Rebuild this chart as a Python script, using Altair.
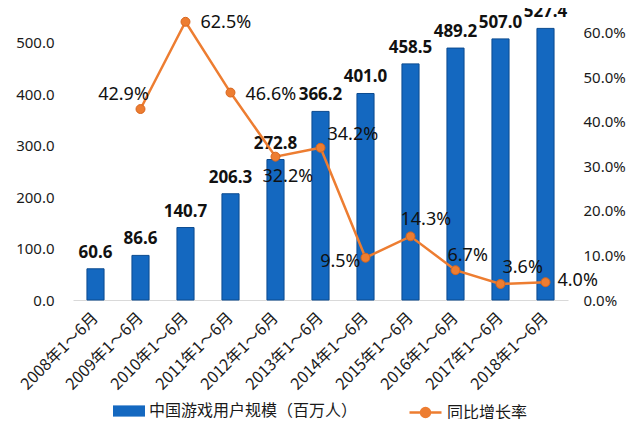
import altair as alt
import pandas as pd

# ---- data ----
periods = ["2008年1～6月", "2009年1～6月", "2010年1～6月", "2011年1～6月",
           "2012年1～6月", "2013年1～6月", "2014年1～6月", "2015年1～6月",
           "2016年1～6月", "2017年1～6月", "2018年1～6月"]
users = [60.6, 86.6, 140.7, 206.3, 272.8, 366.2, 401.0, 458.5, 489.2, 507.0, 527.4]
growth = [None, 42.9, 62.5, 46.6, 32.2, 34.2, 9.5, 14.3, 6.7, 3.6, 4.0]
bar_series = "中国游戏用户规模（百万人）"
line_series = "同比增长率"
left_ticks = [0, 100, 200, 300, 400, 500]
right_ticks = [0, 10, 20, 30, 40, 50, 60]

# ---- label placement style (align, dx, dy) for growth labels ----
pct_label_style = {
    1: ("center", -17, -14),
    2: ("left", 15, 1),
    3: ("left", 15, 2),
    4: ("left", -13, 20),
    5: ("left", 7, -13),
    6: ("right", -5, 4),
    7: ("left", -10, -16),
    8: ("left", -8, -14),
    9: ("left", 2, -16),
    10: ("left", 12, -1),
}

FONT = "Noto Sans"
CJK = "Noto Sans CJK SC"
BLUE = "#1468c0"
ORANGE = "#ED7D31"

df = pd.DataFrame({
    "period": periods,
    "users": users,
    "growth": growth,
    "bar_series": [bar_series] * len(periods),
    "line_series": [line_series] * len(periods),
})

x_enc = alt.X(
    "period:N", sort=periods, title=None,
    scale=alt.Scale(paddingInner=0.62, paddingOuter=0.31),
    axis=alt.Axis(labelAngle=-45, labelAlign="right", labelBaseline="middle",
                  labelPadding=15, labelFont=CJK, labelFontSize=16,
                  labelColor="#1a1a1a", ticks=False, domainColor="#d9d9d9",
                  domainWidth=1, grid=False),
)

y_left = alt.Y(
    "users:Q", title=None,
    scale=alt.Scale(domain=[0, 567], nice=False, zero=True),
    axis=alt.Axis(orient="left", values=left_ticks, format=".1f", grid=False,
                  ticks=False, domain=False, labelPadding=19, labelFont=FONT,
                  labelFontSize=15, labelColor="#1a1a1a"),
)
y_right = alt.Y(
    "growth:Q", title=None,
    scale=alt.Scale(domain=[0, 65.6], nice=False, zero=True),
    axis=alt.Axis(orient="right", values=right_ticks,
                  labelExpr="format(datum.value, '.1f') + '%'", grid=False,
                  ticks=False, domain=False, labelPadding=15, labelFont=FONT,
                  labelFontSize=15, labelColor="#1a1a1a"),
)

base = alt.Chart(df)

bars = base.mark_bar(stroke="#0b4a8f", strokeWidth=1).encode(
    x=x_enc,
    y=y_left,
    fill=alt.Fill("bar_series:N", title=None,
                  scale=alt.Scale(domain=[bar_series], range=[BLUE]),
                  legend=alt.Legend(orient="none", legendX=40, legendY=387,
                                    symbolType="M-1,-0.35H1V0.35H-1Z",
                                    symbolSize=1024, symbolStrokeWidth=0,
                                    labelFont=CJK, labelFontSize=16,
                                    labelLimit=0,
                                    labelColor="#1a1a1a", padding=0)),
)
bar_text = base.mark_text(dy=-16, fontSize=17, fontWeight="bold", font=FONT,
                          color="#111111").encode(
    x=x_enc, y=y_left, text=alt.Text("users:Q", format=".1f"))

valid = base.transform_filter("isValid(datum.growth)")
line = valid.mark_line(strokeWidth=2.5).encode(
    x=x_enc, y=y_right,
    color=alt.Color("line_series:N", title=None,
                    scale=alt.Scale(domain=[line_series], range=[ORANGE]),
                    legend=alt.Legend(orient="none", legendX=335, legendY=387,
                                      symbolType="M-1,0H1M-0.28,0A0.28,0.28,0,1,0,0.28,0A0.28,0.28,0,1,0,-0.28,0Z",
                                      symbolSize=1024, symbolStrokeWidth=2.5,
                                      symbolFillColor=ORANGE,
                                      symbolStrokeColor=ORANGE,
                                      labelFont=CJK, labelFontSize=16,
                                      labelLimit=0,
                                      labelColor="#1a1a1a", padding=0)),
)
pts = valid.mark_point(filled=True, size=80, color=ORANGE, stroke="#d8651c",
                       strokeWidth=1, opacity=1).encode(x=x_enc, y=y_right)

pct_layers = []
for i, (align, dx, dy) in pct_label_style.items():
    pct_layers.append(
        base.transform_filter(alt.datum.period == periods[i])
        .transform_calculate(label="format(datum.growth, '.1f') + '%'")
        .mark_text(align=align, baseline="middle", dx=dx, dy=dy, fontSize=18,
                   font=FONT, color="#111111")
        .encode(x=x_enc, y=y_right, text=alt.Text("label:N"))
    )

left_layer = alt.layer(bars, bar_text)
right_layer = alt.layer(line, pts, *pct_layers)

chart = alt.layer(left_layer, right_layer).resolve_scale(
    y="independent", fill="independent", color="independent"
).properties(
    width=495, height=292,
    autosize=alt.AutoSizeParams(type="none"),
    padding={"left": 65, "top": 0, "right": 64, "bottom": 119},
    background="white",
).configure_view(stroke=None)

chart.save("out.html", embed_options={"renderer": "svg", "actions": False})
